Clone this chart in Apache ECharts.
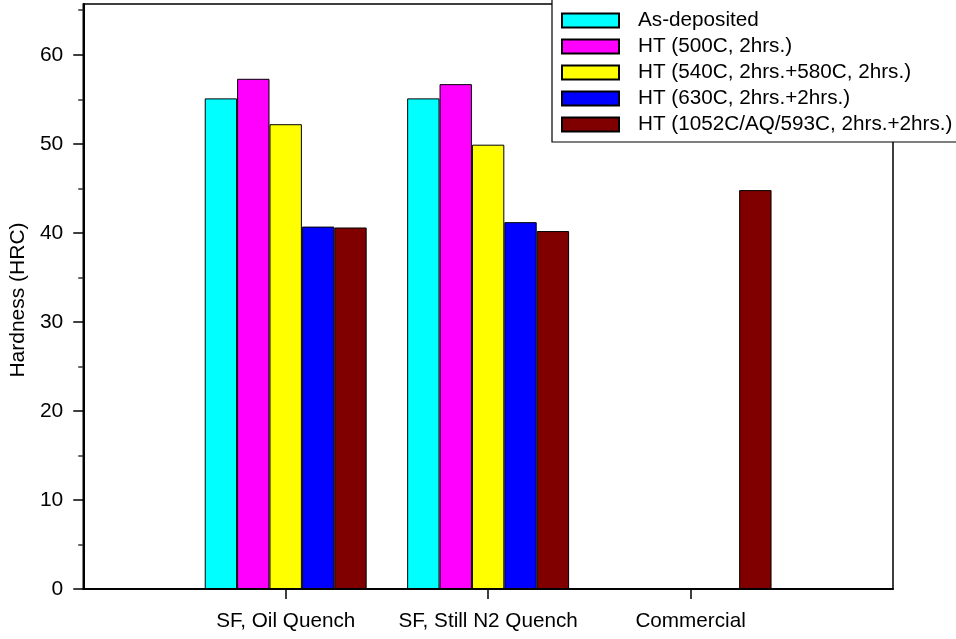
<!DOCTYPE html>
<html>
<head>
<meta charset="utf-8">
<script src="https://cdn.jsdelivr.net/npm/echarts@6/dist/echarts.min.js"></script>
<style>html,body{margin:0;padding:0;background:#fff;}#c{width:956px;height:639px;}</style>
</head>
<body>
<div id="c"></div>
<script>
const categories = ['SF, Oil Quench', 'SF, Still N2 Quench', 'Commercial'];
const seriesNames = ['As-deposited', 'HT (500C, 2hrs.)', 'HT (540C, 2hrs.+580C, 2hrs.)', 'HT (630C, 2hrs.+2hrs.)', 'HT (1052C/AQ/593C, 2hrs.+2hrs.)'];
const asDeposited = [55.1, 55.1, null];
const ht500 = [57.3, 56.7, null];
const ht540_580 = [52.2, 49.9, null];
const ht630 = [40.7, 41.2, null];
const ht1052 = [40.6, 40.2, 44.8];
const seriesColors = ['#00ffff', '#ff00ff', '#ffff00', '#0000ff', '#800000'];
const yTicks = [0, 10, 20, 30, 40, 50, 60];
const yMinorTicks = [5, 15, 25, 35, 45, 55, 65];
const yMin = 0, yMax = 65.7;

const allData = [asDeposited, ht500, ht540_580, ht630, ht1052];
const axisCats = [''].concat(categories, ['']);
const FONT = 'Liberation Sans, Arial, sans-serif';

const series = allData.map((arr, i) => ({
  name: seriesNames[i],
  type: 'bar',
  data: ['-'].concat(arr.map(v => v == null ? '-' : v), ['-']),
  barGap: '0%',
  barCategoryGap: '20%',
  itemStyle: { color: seriesColors[i], borderColor: '#000', borderWidth: 1 },
  emphasis: { disabled: true },
  silent: true
}));

const chart = echarts.init(document.getElementById('c'), null, { renderer: 'canvas' });
chart.setOption({
  animation: false,
  backgroundColor: '#fff',
  grid: { left: 78, right: 63, top: 4, bottom: 50, show: true, borderColor: '#000', borderWidth: 1.5, backgroundColor: 'transparent' },
  legend: {
    orient: 'vertical',
    left: 552, top: -4,
    padding: [14, 12, 7, 9],
    itemWidth: 57, itemHeight: 14, itemGap: 5,
    borderColor: '#000', borderWidth: 1.2,
    backgroundColor: '#fff',
    selectedMode: false,
    textStyle: { fontFamily: FONT, fontSize: 20.7, color: '#000', padding: [0, 0, 0, 14] },
    data: seriesNames.map(n => ({ name: n, icon: 'rect' }))
  },
  xAxis: [{
    type: 'category',
    data: axisCats,
    boundaryGap: false,
    axisLine: { lineStyle: { color: '#000', width: 1.5 } },
    axisTick: { show: true, length: 10, interval: (i) => i > 0 && i < axisCats.length - 1, lineStyle: { color: '#000', width: 1.5 } },
    axisLabel: { fontFamily: FONT, fontSize: 20.7, color: '#000', margin: 22, interval: 0 },
    splitLine: { show: false }
  }, {
    type: 'category',
    data: axisCats,
    boundaryGap: false,
    position: 'top',
    z: 10,
    axisLine: { show: true, lineStyle: { color: '#000', width: 1.5 } },
    axisTick: { show: false },
    axisLabel: { show: false },
    splitLine: { show: false }
  }],
  yAxis: [{
    type: 'value',
    min: yMin, max: yMax,
    name: 'Hardness (HRC)',
    nameLocation: 'middle',
    nameGap: 50,
    nameTextStyle: { fontFamily: FONT, fontSize: 21, color: '#000', padding: [0, 7, 0, 0] },
    axisLine: { show: true, lineStyle: { color: '#000', width: 2 } },
    axisTick: { show: true, length: 10, customValues: yTicks, lineStyle: { color: '#000', width: 1.5 } },
    axisLabel: { fontFamily: FONT, fontSize: 21, color: '#000', margin: 20, customValues: yTicks, padding: [8, 0, 0, 0] },
    splitLine: { show: false }
  }, {
    type: 'value',
    min: yMin, max: yMax,
    position: 'left',
    axisLine: { show: false },
    axisTick: { show: true, length: 5, customValues: yMinorTicks, lineStyle: { color: '#333', width: 1.5 } },
    axisLabel: { show: false },
    splitLine: { show: false }
  }],
  series: series
});
</script>
</body>
</html>
